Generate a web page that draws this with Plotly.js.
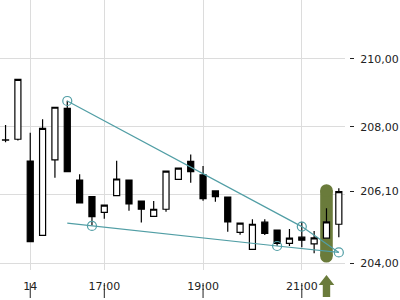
<!DOCTYPE html>
<html>
<head>
<meta charset="utf-8">
<script src="https://cdn.plot.ly/plotly-3.0.1.min.js"></script>
<style>html,body{margin:0;padding:0;background:#fff;}#chart{width:400px;height:300px;}</style>
</head>
<body>
<div id="chart"></div>
<script>
// 15-minute candles (index 0-1: previous day close, 2..27: day 14 from 15:30)
const times = ['13 21:30','13 21:45','14 15:30','14 15:45','14 16:00','14 16:15','14 16:30','14 16:45',
  '14 17:00','14 17:15','14 17:30','14 17:45','14 18:00','14 18:15','14 18:30','14 18:45',
  '14 19:00','14 19:15','14 19:30','14 19:45','14 20:00','14 20:15','14 20:30','14 20:45',
  '14 21:00','14 21:15','14 21:30','14 21:45'];
const openV  = [207.61,207.64,207.00,204.81,207.03,208.55,206.44,205.95,205.49,205.98,206.44,205.82,205.37,205.58,206.46,206.99,206.59,206.12,205.94,204.90,204.40,205.20,204.97,204.58,204.76,204.56,204.73,205.14];
const highV  = [208.06,209.40,207.83,208.23,208.58,208.77,206.61,205.95,205.70,207.01,206.44,205.82,205.82,206.70,206.79,207.19,206.85,206.12,205.94,205.17,205.29,205.29,204.97,205.00,205.21,204.94,205.61,206.20];
const lowV   = [207.55,207.60,204.63,204.81,206.51,206.69,205.77,205.10,205.30,205.98,205.54,205.19,205.37,205.51,206.46,206.36,205.83,205.80,204.92,204.83,204.40,204.82,204.51,204.50,204.46,204.29,204.73,204.76];
const closeV = [207.62,209.40,204.63,207.96,208.58,206.69,205.77,205.36,205.70,206.47,205.74,205.58,205.58,206.70,206.79,206.69,205.89,205.95,205.21,205.17,205.14,204.87,204.58,204.73,204.67,204.74,205.21,206.10];

// trend lines (triangle)
const upperX = [5, 24, 27];
const upperY = [208.765, 205.07, 204.31];
const lowerX = [5, 7, 22, 27];
const lowerY = [205.17, 205.09, 204.50, 204.31];
const markX  = [5, 24, 7, 22, 27];
const markY  = [208.765, 205.07, 205.09, 204.50, 204.31];

// axis ticks
const xTickVals = [2, 8, 16, 24];
const xTickText = ['14', '17:00', '19:00', '21:00'];
const yGridVals = [204, 206, 208, 210];
const yTickVals = [204, 206.10, 208, 210];
const yTickText = ['204,00', '206,10', '208,00', '210,00'];

// highlighted signal candle
const signalIdx = 26;
const signalTop = 206.13;
const signalBottom = 204.20;

const teal = '#519ea5';
const olive = '#6a7b3b';
const yRange = [203.794, 211.735];
const xRange = [-0.45, 27.5];

const traces = [
  {
    type: 'candlestick',
    x: openV.map((_, i) => i),
    open: openV, high: highV, low: lowV, close: closeV,
    text: times, hoverinfo: 'none',
    increasing: {line: {color: '#000', width: 1.2}, fillcolor: '#fff'},
    decreasing: {line: {color: '#000', width: 1.2}, fillcolor: '#000'},
    whiskerwidth: 0,
    showlegend: false
  },
  {type: 'scatter', mode: 'lines', x: upperX, y: upperY, line: {color: teal, width: 1.2}, hoverinfo: 'skip', showlegend: false},
  {type: 'scatter', mode: 'lines', x: lowerX, y: lowerY, line: {color: teal, width: 1.2}, hoverinfo: 'skip', showlegend: false},
  {type: 'scatter', mode: 'markers', x: markX, y: markY,
   marker: {symbol: 'circle-open', size: 9, color: teal, line: {width: 1.2, color: teal}}, hoverinfo: 'skip', showlegend: false},
  {type: 'scatter', mode: 'markers', x: [signalIdx], y: [signalTop], yaxis: 'y2', marker: {size: 0, opacity: 0}, hoverinfo: 'skip', showlegend: false}
];

const shapes = [];
// signal highlight pill
shapes.push({type: 'rect', layer: 'between', xref: 'x', yref: 'y', xsizemode: 'pixel', xanchor: signalIdx,
  x0: -6.3, x1: 6.3, y0: signalBottom, y1: signalTop, fillcolor: olive, line: {width: 0}});
[signalTop, signalBottom].forEach(v => shapes.push({type: 'circle', layer: 'between', xref: 'x', yref: 'y',
  xsizemode: 'pixel', ysizemode: 'pixel', xanchor: signalIdx, yanchor: v,
  x0: -6.3, x1: 6.3, y0: -6.3, y1: 6.3, fillcolor: olive, line: {width: 0}}));
// up arrow below the signal
const hw = 7.8 / 12.34, sw = 3.7 / 12.34;
const yTip = -5 / 270, yBase = -15 / 270, yEnd = -27 / 270;
shapes.push({type: 'path', xref: 'x', yref: 'paper', fillcolor: olive, line: {width: 0},
  path: `M ${signalIdx} ${yTip} L ${signalIdx + hw} ${yBase} L ${signalIdx + sw} ${yBase} L ${signalIdx + sw} ${yEnd} L ${signalIdx - sw} ${yEnd} L ${signalIdx - sw} ${yBase} L ${signalIdx - hw} ${yBase} Z`});
// x tick marks crossing the labels
xTickVals.forEach(v => shapes.push({type: 'line', xref: 'x', yref: 'paper', x0: v, x1: v,
  y0: -13 / 270, y1: -28 / 270, line: {color: '#222', width: 1}}));

const layout = {
  width: 400, height: 300,
  margin: {l: 0, r: 45, t: 0, b: 30, pad: 0},
  paper_bgcolor: '#fff', plot_bgcolor: '#fff',
  font: {family: 'DejaVu Sans', size: 11, color: '#222'},
  showlegend: false,
  hovermode: false,
  xaxis: {
    type: 'linear', range: xRange, domain: [0, 345 / 355],
    tickmode: 'array', tickvals: xTickVals, ticktext: xTickText,
    showgrid: true, gridcolor: '#dcdcdc', gridwidth: 1,
    zeroline: false, showline: false,
    ticks: 'outside', ticklen: 6, tickcolor: 'rgba(0,0,0,0)',
    rangeslider: {visible: false}, fixedrange: true
  },
  yaxis: {
    range: yRange, side: 'right', anchor: 'x',
    tickmode: 'array', tickvals: yGridVals, showticklabels: false,
    showgrid: true, gridcolor: '#dcdcdc', gridwidth: 1,
    zeroline: false, showline: false, ticks: '', fixedrange: true
  },
  yaxis2: {
    range: yRange, overlaying: 'y', side: 'right', anchor: 'free', position: 349 / 355,
    tickmode: 'array', tickvals: yTickVals, ticktext: yTickText,
    showgrid: false, zeroline: false, showline: false,
    ticks: 'outside', ticklen: 4, tickcolor: '#222', tickwidth: 1,
    ticklabelstandoff: 4, fixedrange: true
  },
  shapes: shapes
};

Plotly.newPlot('chart', traces, layout, {displayModeBar: false, staticPlot: true});
</script>
</body>
</html>
